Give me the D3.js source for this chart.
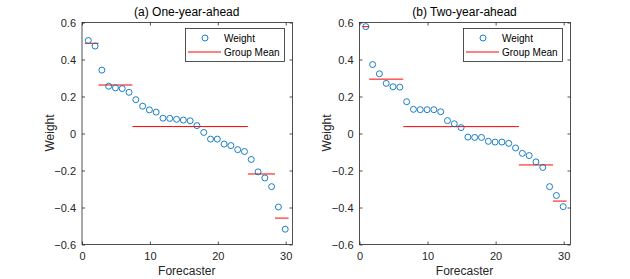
<!DOCTYPE html>
<html>
<head>
<meta charset="utf-8">
<script src="https://cdn.jsdelivr.net/npm/d3@7"></script>
<style>
  body { margin: 0; background: #fff; }
  svg { display: block; font-family: "Liberation Sans", Arial, sans-serif; }
</style>
</head>
<body>
<svg id="chart" width="630" height="279"></svg>
<script>
// Weights per forecaster, sorted descending
const forecasters = d3.range(1, 31);

const weightsOne = [0.50, 0.47, 0.34, 0.253, 0.244, 0.24, 0.22, 0.18, 0.145, 0.125,
    0.113, 0.08, 0.079, 0.074, 0.07, 0.066, 0.04, 0.003, -0.033, -0.033,
    -0.06, -0.068, -0.09, -0.10, -0.143, -0.21, -0.243, -0.29, -0.40, -0.52];

const weightsTwo = [0.575, 0.37, 0.32, 0.268, 0.25, 0.248, 0.169, 0.128, 0.126, 0.126,
    0.126, 0.115, 0.067, 0.05, 0.029, -0.022, -0.024, -0.024, -0.045, -0.049,
    -0.049, -0.056, -0.081, -0.11, -0.122, -0.156, -0.186, -0.29, -0.338, -0.398];

// Groups as [first forecaster, last forecaster]
const groupsOne = [[1, 2], [3, 7], [8, 24], [25, 28], [29, 30]];
const groupsTwo = [[1, 1], [2, 6], [7, 23], [24, 28], [29, 30]];

const xTicks = [0, 10, 20, 30];
const yTicks = [-0.6, -0.4, -0.2, 0, 0.2, 0.4, 0.6];

const svg = d3.select("#chart");
const axisColor = "#262626";
const blue = "#0072BD";
const red = "#FF0000";

function drawPanel(left, right, title, weights, groups) {
    const top = 22, bottom = 244;
    const x = d3.scaleLinear().domain([0, 31]).range([left, right]);
    const y = d3.scaleLinear().domain([-0.6, 0.6]).range([bottom, top]);
    const g = svg.append("g");

    // box
    g.append("rect")
        .attr("x", left + 0.5).attr("y", top + 0.5)
        .attr("width", right - left).attr("height", bottom - top)
        .attr("fill", "none").attr("stroke", axisColor).attr("stroke-width", 0.8);

    const xAxis = d3.axisBottom(x).tickValues(xTicks).tickSize(-3).tickPadding(8).tickFormat(d3.format("d"));
    const xAxisTop = d3.axisTop(x).tickValues(xTicks).tickSize(-3).tickFormat("");
    const yAxis = d3.axisLeft(y).tickValues(yTicks).tickSize(-3).tickPadding(6).tickFormat(d => d === 0 ? "0" : d3.format(".1f")(d));
    const yAxisRight = d3.axisRight(y).tickValues(yTicks).tickSize(-3).tickFormat("");

    const styleAxis = sel => {
        sel.select(".domain").remove();
        sel.selectAll("line").attr("stroke", axisColor).attr("stroke-width", 0.8);
        sel.selectAll("text").attr("fill", axisColor).style("font-size", "11px");
        sel.attr("font-family", null);
    };
    g.append("g").attr("transform", `translate(0.5,${bottom + 0.5})`).call(xAxis).call(styleAxis);
    g.append("g").attr("transform", `translate(0.5,${top + 0.5})`).call(xAxisTop).call(styleAxis);
    g.append("g").attr("transform", `translate(${left + 0.5},0.5)`).call(yAxis).call(styleAxis);
    g.append("g").attr("transform", `translate(${right + 0.5},0.5)`).call(yAxisRight).call(styleAxis);

    // group means
    groups.forEach(([a, b]) => {
        const m = d3.mean(weights.slice(a - 1, b));
        g.append("line")
            .attr("x1", x(a - 0.5)).attr("x2", x(b + 0.5))
            .attr("y1", y(m)).attr("y2", y(m))
            .attr("stroke", red).attr("stroke-width", 1);
    });

    // weights
    g.selectAll("circle.pt").data(weights).join("circle")
        .attr("class", "pt")
        .attr("cx", (d, i) => x(forecasters[i]))
        .attr("cy", d => y(d))
        .attr("r", 3)
        .attr("fill", "none").attr("stroke", blue).attr("stroke-width", 0.9);

    // title and labels
    g.append("text").attr("x", (left + right) / 2).attr("y", 16)
        .attr("text-anchor", "middle").attr("fill", "#000").style("font-size", "12px").text(title);
    g.append("text").attr("x", (left + right) / 2).attr("y", 275)
        .attr("text-anchor", "middle").attr("fill", axisColor).style("font-size", "12px").text("Forecaster");
    g.append("text").attr("transform", `translate(${left - 28},${(top + bottom) / 2}) rotate(-90)`)
        .attr("text-anchor", "middle").attr("fill", axisColor).style("font-size", "12px").text("Weight");

    // legend
    const lx = right - 107, ly = top + 6, lw = 99, lh = 33;
    const lg = g.append("g");
    lg.append("rect").attr("x", lx + 0.5).attr("y", ly + 0.5).attr("width", lw).attr("height", lh)
        .attr("fill", "#fff").attr("stroke", axisColor).attr("stroke-width", 0.8);
    lg.append("circle").attr("cx", lx + 20).attr("cy", ly + 10).attr("r", 3)
        .attr("fill", "none").attr("stroke", blue).attr("stroke-width", 0.9);
    lg.append("line").attr("x1", lx + 3).attr("x2", lx + 36).attr("y1", ly + 24).attr("y2", ly + 24)
        .attr("stroke", red).attr("stroke-width", 1);
    lg.append("text").attr("x", lx + 39).attr("y", ly + 13.5).attr("fill", "#000").style("font-size", "10px").text("Weight");
    lg.append("text").attr("x", lx + 39).attr("y", ly + 27.5).attr("fill", "#000").style("font-size", "10px").text("Group Mean");
}

drawPanel(81.5, 292, "(a) One-year-ahead", weightsOne, groupsOne);
drawPanel(359, 570, "(b) Two-year-ahead", weightsTwo, groupsTwo);
</script>
</body>
</html>
